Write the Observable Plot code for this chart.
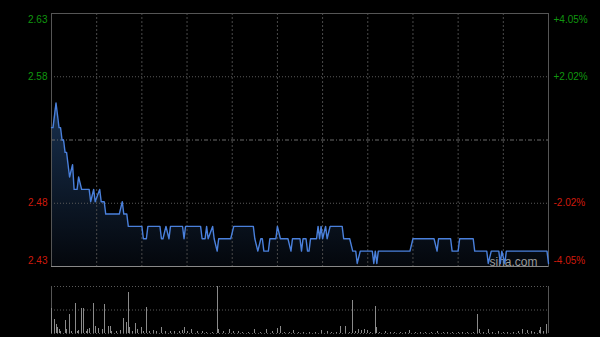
<!DOCTYPE html>
<html><head><meta charset="utf-8">
<script src="https://cdn.jsdelivr.net/npm/d3@7"></script>
<script src="https://cdn.jsdelivr.net/npm/@observablehq/plot@0.6"></script>
<style>
html,body{margin:0;padding:0;background:#000;}
#wrap{position:relative;width:600px;height:337px;background:#000;overflow:hidden;}
#price{position:absolute;left:0;top:0;}
#vol{position:absolute;left:0;top:280px;}
</style></head><body><div id="wrap"><div id="price"></div><div id="vol"></div></div>
<script>
// ---- data ----
const preClose = 2.53;
const maxPct = 4.05;
const sessionMinutes = 330;
const gridPct = [4.05, 2.025, 0, -2.025, -4.05];
const priceLabels = ["2.63", "2.58", "", "2.48", "2.43"];
const pctLabels = ["+4.05%", "+2.02%", "", "-2.02%", "-4.05%"];
const halfHourMarks = [30, 60, 90, 120, 150, 180, 210, 240, 270, 300];

const priceMinute = [0,1,3,5,6,7,8,9,10,12,14,15,17,18,20,25,26,28,29,32,33,35,36,45,47,48,50,51,60,61,63,64,72,73,74,76,78,79,87,88,89,99,100,102,103,104,107,108,110,111,119,121,134,135,137,139,140,141,144,145,149,150,152,157,159,160,165,166,167,169,170,171,172,176,177,178,179,180,182,183,185,193,194,198,200,202,203,205,213,214,215,216,217,238,240,254,256,257,265,266,270,271,280,281,289,290,292,297,298,299,301,302,329,330];
const priceValue = [2.54,2.54,2.56,2.54,2.54,2.53,2.53,2.52,2.52,2.50,2.51,2.49,2.49,2.50,2.49,2.49,2.48,2.49,2.48,2.49,2.48,2.48,2.47,2.47,2.48,2.47,2.47,2.46,2.46,2.45,2.45,2.46,2.46,2.45,2.45,2.46,2.45,2.46,2.46,2.45,2.46,2.46,2.45,2.45,2.46,2.45,2.46,2.45,2.44,2.45,2.45,2.46,2.46,2.45,2.44,2.45,2.45,2.44,2.44,2.45,2.45,2.46,2.45,2.45,2.44,2.45,2.45,2.44,2.45,2.45,2.44,2.44,2.45,2.45,2.46,2.45,2.46,2.45,2.46,2.45,2.46,2.46,2.45,2.45,2.44,2.44,2.43,2.44,2.44,2.43,2.44,2.43,2.44,2.44,2.45,2.45,2.44,2.45,2.45,2.44,2.44,2.45,2.45,2.44,2.44,2.43,2.44,2.44,2.43,2.44,2.43,2.44,2.44,2.43];

const volMinute = [0,2,3,4,5,6,9,10,12,13,16,17,18,20,21,23,24,25,28,29,31,34,35,38,39,40,43,46,48,50,51,52,54,56,57,60,61,63,65,68,70,73,76,79,82,85,87,88,90,93,97,100,103,107,110,111,114,118,121,124,127,131,135,139,143,147,150,152,155,158,161,164,167,171,175,179,183,186,189,192,195,198,200,202,204,206,208,210,212,215,216,218,222,225,228,232,235,238,242,245,248,252,256,260,263,266,270,273,276,280,283,284,287,290,293,297,300,303,307,310,313,316,319,321,324,325,327,329];
const volValue = [250,140,90,60,40,20,130,40,190,20,300,20,30,250,250,20,40,50,300,70,50,40,290,70,70,20,20,30,150,110,410,60,20,100,40,60,20,260,20,30,20,60,20,20,20,20,30,60,20,40,20,20,10,10,470,40,20,40,20,20,10,10,40,10,40,20,50,70,10,10,30,10,10,10,10,30,20,10,10,70,70,10,330,20,40,30,40,30,10,270,60,10,20,10,10,10,10,30,10,10,10,10,20,10,10,10,10,10,10,10,190,40,10,40,10,20,10,10,10,20,40,30,20,10,30,60,20,90];
const volMax = 470;

// ---- build ----
const priceData = priceMinute.map((m, i) => ({m, p: priceValue[i]}));
const volData = volMinute.map((m, i) => ({m, v: volValue[i]}));
const yMin = preClose * (1 - maxPct / 100);
const yMax = preClose * (1 + maxPct / 100);
const gridVals = gridPct.map(p => preClose * (1 + p / 100));
const green = "#10960f", red = "#cf1a0c";

const axisMarks = [];
gridPct.forEach((p, i) => {
  if (!priceLabels[i]) return;
  const col = p > 0 ? green : red;
  const dy = i === 0 ? 6 : (i === gridPct.length - 1 ? -6 : 0);
  axisMarks.push(Plot.axisY([gridVals[i]], {anchor: "left", tickSize: 0, tickPadding: 4, label: null, tickFormat: () => priceLabels[i], fill: col, dy}));
  axisMarks.push(Plot.axisY([gridVals[i]], {anchor: "right", tickSize: 0, tickPadding: 5, label: null, tickFormat: () => pctLabels[i], fill: col, dy}));
});

const pricePlot = Plot.plot({
  width: 600, height: 270,
  marginTop: 13, marginBottom: 4, marginLeft: 51, marginRight: 52,
  style: {background: "transparent", fontFamily: "'Liberation Sans', Arial, sans-serif", fontSize: "10px"},
  x: {domain: [0, sessionMinutes], axis: null},
  y: {domain: [yMin, yMax], axis: null},
  marks: [
    Plot.areaY(priceData, {x: "m", y1: () => yMin, y2: "p", fill: "url(#pgrad)"}),
    Plot.ruleX(halfHourMarks, {stroke: "#4a4a4a", strokeDasharray: "2,2"}),
    Plot.ruleY([gridVals[1], gridVals[3]], {stroke: "#5a5a5a", strokeDasharray: "1,2"}),
    Plot.ruleY([gridVals[2]], {stroke: "#6a6a6a", strokeDasharray: "4,2,1,2"}),
    Plot.frame({stroke: "#555"}),
    Plot.ruleY([yMin], {stroke: "#888"}),
    Plot.text(["sina.com"], {frameAnchor: "bottom-right", text: d => d, dx: -11, dy: -1, lineAnchor: "bottom", fill: "#9a9a9a", fontSize: 12}),
    Plot.line(priceData, {x: "m", y: "p", stroke: "#4a80dc", strokeWidth: 1.4}),
    ...axisMarks
  ]
});
const defs = d3.select(pricePlot).insert("defs", ":first-child");
const g = defs.append("linearGradient").attr("id", "pgrad").attr("x1", 0).attr("y1", 0).attr("x2", 0).attr("y2", 1);
g.append("stop").attr("offset", "0%").attr("stop-color", "#18304f");
g.append("stop").attr("offset", "100%").attr("stop-color", "#04070c");
document.getElementById("price").appendChild(pricePlot);

const volPlot = Plot.plot({
  width: 600, height: 57,
  marginTop: 6, marginBottom: 4, marginLeft: 51, marginRight: 52,
  style: {background: "transparent"},
  x: {domain: [0, sessionMinutes], axis: null, round: true},
  y: {domain: [0, volMax], axis: null},
  marks: [
    Plot.ruleY([0, volMax / 2, volMax], {stroke: "#5a5a5a", strokeDasharray: "1,2"}),
    Plot.ruleX([0, sessionMinutes], {stroke: "#555"}),
    Plot.ruleX(volData, {x: "m", y1: () => 0, y2: "v", stroke: "#8a8a8a", strokeWidth: 1})
  ]
});
document.getElementById("vol").appendChild(volPlot);
</script></body></html>
